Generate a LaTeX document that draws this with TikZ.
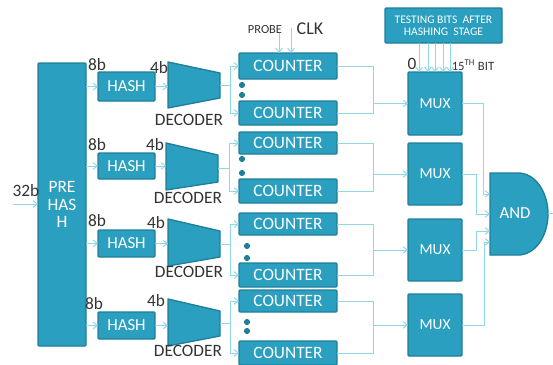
\documentclass[tikz,border=0pt]{standalone}
\usepackage{fontspec}
\setmainfont{Carlito}
\usetikzlibrary{arrows.meta,calc}
\definecolor{tealfill}{HTML}{2A9FBF}
\definecolor{tealedge}{HTML}{1F7F9B}
\definecolor{wirec}{HTML}{8FD8EA}
\definecolor{labelc}{HTML}{333333}
\tikzset{
  blockbase/.style={draw=tealedge,fill=tealfill,line width=1pt,rounded corners=0.8pt,inner sep=0,outer sep=0,text=white,align=center,font=\fontsize{12.6}{13}\selectfont},
  wire/.style={draw=wirec,line width=0.75pt},
  awire/.style={wire,-{Straight Barb[length=3pt,width=5pt]}},
  lab/.style={text=labelc,inner sep=0,font=\fontsize{13}{14}\selectfont},
  dotm/.style={circle,fill=tealedge,minimum size=4.6pt,inner sep=0},
}
\newcommand{\blk}[7][]{\node[blockbase,minimum width={(#5-#3)*0.75pt},minimum height={(#6-#4)*0.75pt},#1] (#2) at ({(#3+#5)/2},{(#4+#6)/2}) {#7};}
% name, xL, yLt, yLb, xR, yRt, yRb
\newcommand{\dec}[7]{\draw[draw=tealedge,fill=tealfill,line width=1pt,line join=round] (#2,#3) -- (#5,#6) -- (#5,#7) -- (#2,#4) -- cycle;
  \coordinate (#1i) at (#2,{(#3+#4)/2}); \coordinate (#1o) at (#5,{(#6+#7)/2});}
\begin{document}
\begin{tikzpicture}[x=0.75pt,y=-0.75pt]
\useasboundingbox (0,0) rectangle (553,364);
\blk[font=\fontsize{13}{12.8}\selectfont]{pre}{38}{63}{86}{346}{PRE\\HAS\\H}
\blk{h1}{98}{72}{155}{101}{HASH}
\blk{h2}{98}{153}{155}{179}{HASH}
\blk{h3}{98}{230}{155}{257}{HASH}
\blk{h4}{98}{312}{155}{339}{HASH}
\dec{d1}{168}{62}{108}{220}{73}{98}
\dec{d2}{166}{143}{190}{218}{155}{182}
\dec{d3}{168}{219}{266}{220}{231}{257}
\dec{d4}{168}{299}{346}{220}{311}{336}
\blk[font=\fontsize{13}{14}\selectfont]{c1}{239}{53}{337}{79}{COUNTER}
\blk[font=\fontsize{13}{14}\selectfont]{c2}{239}{101}{337}{125}{COUNTER}
\blk[font=\fontsize{13}{14}\selectfont]{c3}{239}{132}{337}{154}{COUNTER}
\blk[font=\fontsize{13}{14}\selectfont]{c4}{239}{179}{337}{203}{COUNTER}
\blk[font=\fontsize{13}{14}\selectfont]{c5}{239}{213}{337}{235}{COUNTER}
\blk[font=\fontsize{13}{14}\selectfont]{c6}{239}{263}{337}{287}{COUNTER}
\blk[font=\fontsize{13}{14}\selectfont]{c7}{239}{290}{337}{312}{COUNTER}
\blk[font=\fontsize{13}{14}\selectfont]{c8}{239}{341}{337}{365}{COUNTER}
\blk[font=\fontsize{11.5}{13}\selectfont]{m1}{408}{72}{462}{135}{MUX}
\blk[font=\fontsize{11.5}{13}\selectfont]{m2}{408}{143}{462}{205}{MUX}
\blk[font=\fontsize{11.5}{13}\selectfont]{m3}{408}{219}{462}{281}{MUX}
\blk[font=\fontsize{11.5}{13}\selectfont]{m4}{408}{294}{462}{356}{MUX}
\blk[font=\fontsize{8.7}{9}\selectfont]{test}{385}{8}{502}{43}{TESTING BITS\ \ AFTER\\HASHING\ \ STAGE}
% AND gate
\draw[draw=tealedge,fill=tealfill,line width=1pt] (490,173) -- (520,173) .. controls (538,175) and (548,195) .. (548,214) .. controls (548,233) and (538,253) .. (520,255) -- (490,255) -- cycle;
\node[text=white,inner sep=0,font=\fontsize{12.6}{14}\selectfont] (andg) at (515,213) {AND};
% dots
\foreach \i/\x/\y in {a/242/85,b/242/95,c/242/159,d/242/173,e/247/246,f/247/258,g/247/322,h/247/331}
  \node[dotm] (dot\i) at (\x,\y) {};
% input
\coordinate (in32) at (13,204);
\draw[awire] (in32) -- (in32-|pre.west);
% prehash to hash
\draw[awire] (h1.west-|pre.east) -- (h1.west);
\draw[awire] (h2.west-|pre.east) -- (h2.west);
\draw[awire] (h3.west-|pre.east) -- (h3.west);
\draw[awire] (h4.west-|pre.east) -- (h4.west);
% hash to decoder
\draw[awire] (h1.east) -- (h1.east-|d1i);
\draw[awire] (h2.east) -- (h2.east-|d2i);
\draw[awire] (h3.east) -- (h3.east-|d3i);
\draw[awire] (h4.east) -- (h4.east-|d4i);
% decoder to counters
\foreach \d/\t/\b/\x in {d1/c1/c2/230,d2/c3/c4/229,d3/c5/c6/230,d4/c7/c8/230}{
  \coordinate (\d j) at (\x,0|-\d o);
  \draw[wire] (\d o) -- (\d j);
  \draw[awire] (\d j) |- (\t.west);
  \draw[awire] (\d j) |- (\b.west);
}
% counters to mux
\foreach \t/\b/\m in {c1/c2/m1,c3/c4/m2,c5/c6/m3,c7/c8/m4}{
  \coordinate (\m j) at (373,0|-\m.west);
  \draw[wire] (\t.east) -| (\m j);
  \draw[wire] (\b.east) -| (\m j);
  \draw[awire] (\m j) -- (\m.west);
}
% mux to and
\coordinate (a1) at (490,194);
\coordinate (a2) at (490,214);
\coordinate (a3) at (490,231);
\coordinate (a4) at (490,242);
\coordinate (q1) at (483,0|-m1.east);
\coordinate (q2) at (476,0|-m2.east);
\coordinate (q3) at (476,0|-m3.east);
\coordinate (q4) at (484,0|-m4.east);
\draw[awire] (m1.east) -- (q1) |- (a1);
\draw[awire] (m2.east) -- (q2) |- (a2);
\draw[awire] (m3.east) -- (q3) |- (a3);
\draw[awire] (m4.east) -- (q4) |- (a4);
\coordinate (andout) at (553,213);
\draw[wire] (548,213) -- (andout);
% probe and clk
\coordinate (pb) at (279,33);
\coordinate (ck) at (291,28);
\draw[awire] (pb) -- (pb|-c1.north);
\draw[awire] (ck) -- (ck|-c1.north);
% testing bits
\foreach \i/\x in {1/419,2/428,3/435,4/443,5/450}{
  \coordinate (bt\i) at (\x,43);
  \coordinate (bb\i) at (\x,72);
  \draw[awire] (bt\i) -- (bb\i);
}
% labels
\node[lab] (l32) at (26,191) {32b};
\node[lab] (l8a) at (97,65) {8b};
\node[lab] (l8b) at (97,145) {8b};
\node[lab] (l8c) at (97,221) {8b};
\node[lab] (l8d) at (94,304) {8b};
\node[lab] (l4a) at (159,68) {4b};
\node[lab] (l4b) at (155,145) {4b};
\node[lab] (l4c) at (156,223) {4b};
\node[lab] (l4d) at (156,301) {4b};
\node[lab] (dla) at (189,120) {DECODER};
\node[lab] (dlb) at (188,198) {DECODER};
\node[lab] (dlc) at (189,272) {DECODER};
\node[lab] (dld) at (188,351) {DECODER};
\node[lab,font=\fontsize{9.3}{10}\selectfont] (lprobe) at (265,30) {PROBE};
\node[lab,font=\fontsize{13.5}{14}\selectfont] (lclk) at (310,29) {CLK};
\node[lab] (lzero) at (412,64) {0};
\node[lab,font=\fontsize{9.5}{10}\selectfont] (lbit) at (473,65) {15\textsuperscript{TH} BIT};
\end{tikzpicture}
\end{document}
